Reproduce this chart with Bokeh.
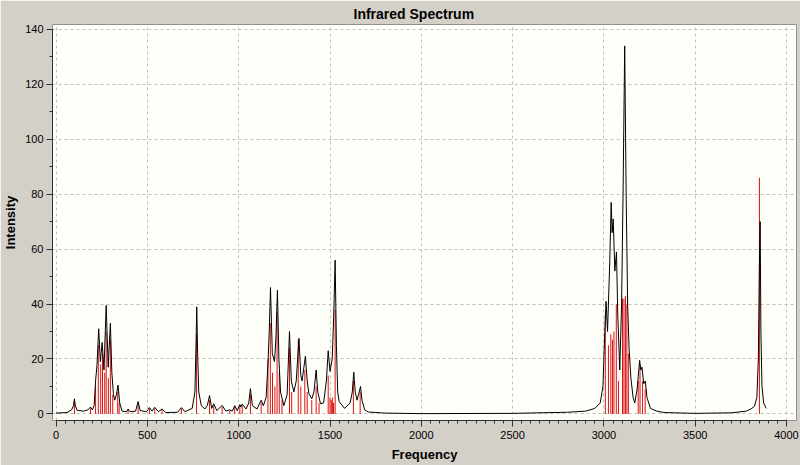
from bokeh.plotting import figure
from bokeh.models import Range1d, SingleIntervalTicker, ColumnDataSource, Title
from bokeh.embed import file_html
from bokeh.resources import INLINE

# Red stick spectrum (frequency cm-1, intensity)
stick_freq = [100, 188, 216, 231, 244, 254, 266, 274, 286, 297, 310, 337, 345,
              394, 449, 511, 540, 580, 686, 769, 840, 863, 909, 951, 978, 1006,
              1019, 1064, 1123, 1160, 1173, 1185, 1198, 1210, 1222, 1237, 1278,
              1290, 1326, 1340, 1362, 1375, 1400, 1424, 1440, 1490, 1500, 1507,
              1513, 1519, 1528, 1628, 1665,
              3008, 3025, 3038, 3047, 3055, 3068, 3080, 3102, 3110, 3118, 3126,
              3134, 3188, 3198, 3212, 3226, 3852]
stick_int = [4.5, 2, 10, 25, 18, 22, 15, 30, 13, 27, 7, 8, 4,
             1.5, 4, 2, 2, 1.5, 2, 29, 5, 3, 2.5, 1.2, 2.5, 2.8,
             3, 7, 4, 20, 33, 15, 10, 37, 15, 5, 24,
             8, 27, 10, 16, 8, 5, 10, 4, 14, 6, 5,
             6, 4, 38, 12, 8,
             36, 25, 29, 27, 30, 40, 12, 42, 42, 43, 40,
             22, 12, 18, 12, 9, 86]

# Black broadened envelope
curve_freq = [0, 60, 85, 95, 100, 105, 115, 150, 175, 188, 198, 208, 216, 224,
              233, 242, 252, 262, 274, 285, 297, 305, 314, 321, 330, 339, 348,
              361, 385, 394, 405, 435, 449, 460, 495, 511, 525, 540, 560, 580,
              600, 665, 686, 705, 745, 760, 766, 770, 775, 781, 795, 815, 828,
              840, 852, 863, 880, 909, 930, 951, 965, 978, 992, 1006, 1012, 1019,
              1040, 1055, 1064, 1075, 1100, 1123, 1135, 1150, 1160, 1167, 1174,
              1184, 1196, 1204, 1212, 1220, 1229, 1247, 1265, 1278, 1288, 1302,
              1315, 1330, 1340, 1347, 1365, 1375, 1384, 1400, 1412, 1424, 1433,
              1448, 1465, 1480, 1490, 1500, 1512, 1520, 1528, 1535, 1542, 1550,
              1580, 1610, 1622, 1630, 1638, 1648, 1660, 1667, 1675, 1690, 1710,
              1800, 2000, 2500, 2800, 2900, 2950, 2980, 2995, 3005, 3012, 3020,
              3032, 3040, 3045, 3051, 3060, 3069, 3076, 3087, 3097, 3105, 3114,
              3122, 3130, 3138, 3148, 3160, 3169, 3182, 3196, 3202, 3209, 3218,
              3227, 3236, 3255, 3290, 3330, 3500, 3700, 3780, 3810, 3825, 3838,
              3846, 3852, 3856, 3860, 3866, 3875, 3889]
curve_int = [0.3, 0.5, 1.5, 3, 5.5, 3, 1.3, 1, 1.5, 2.5, 1.5, 3, 12, 18,
             31, 19, 26, 16, 39.5, 17, 33, 15, 7, 5, 7, 10.5, 4,
             1, 0.8, 1.8, 0.8, 1, 4.5, 1.2, 0.8, 2.3, 1, 2.4, 0.8, 1.8,
             0.5, 0.6, 2.3, 0.8, 2, 8, 25, 39, 22, 8, 3, 1.8, 3,
             6.7, 2, 3.7, 1.2, 3.1, 1, 1.5, 1, 3, 1.2, 3.4, 2.5, 3.6,
             1.8, 4, 9.2, 3, 1.8, 5, 3, 6, 18, 30, 46,
             22, 19, 28, 45, 20, 8, 3, 7, 30, 12, 8,
             12, 27.5, 14, 12, 21, 12, 7.5, 5.5, 8, 16, 8,
             3.7, 4, 12, 23, 15.5, 20, 35, 56, 25, 8, 4.5,
             2, 4, 8, 15.2, 8, 5, 8, 10, 5, 1.5, 0.7,
             0.3, 0.1, 0.2, 0.6, 1, 2, 4, 10, 30, 41, 30,
             55, 77, 66, 71, 52, 59, 36, 16, 40, 80, 134,
             80, 40, 24, 13, 6, 4, 9, 19.5, 16, 17, 11,
             12, 6, 2, 1, 0.5, 0.2, 0.4, 1, 2, 2.8, 6,
             20, 55, 70, 30, 10, 4, 2]

x_ticks_interval = 500
y_ticks_interval = 20

FONT = "Liberation Sans"

p = figure(width=800, height=465, output_backend="svg", toolbar_location=None,
           x_range=Range1d(-20, 4055), y_range=Range1d(-2.4, 141.8),
           min_border_left=52, min_border_right=4, min_border_top=24,
           min_border_bottom=45)

p.background_fill_color = "#fffffa"
p.border_fill_color = "#d4d0c8"
p.outline_line_color = "#909090"
p.outline_line_width = 1

t = Title(text="Infrared Spectrum", align="left", text_font=FONT,
          text_font_size="14px", text_font_style="bold", text_color="#000000",
          text_line_height=0.8, standoff=6, offset=301)
p.add_layout(t, "above")

src = ColumnDataSource(dict(x=stick_freq, y0=[0] * len(stick_freq), y=stick_int))
p.segment(x0="x", y0="y0", x1="x", y1="y", source=src, line_color="#dd1111",
          line_width=1)
p.line(curve_freq, curve_int, line_color="#000000", line_width=1)

xa = p.xaxis[0]
xa.ticker = SingleIntervalTicker(interval=x_ticks_interval, num_minor_ticks=10)
xa.bounds = (0, 4000)
xa.axis_label = "Frequency"
ya = p.yaxis[0]
ya.ticker = SingleIntervalTicker(interval=y_ticks_interval, num_minor_ticks=2)
ya.bounds = (0, 140)
ya.axis_label = "Intensity"

for ax in (xa, ya):
    ax.axis_line_color = "#303030"
    ax.major_tick_line_color = "#303030"
    ax.minor_tick_line_color = "#303030"
    ax.major_tick_in = 0
    ax.minor_tick_in = 0
    ax.minor_tick_out = 3
    ax.major_tick_out = 6
    ax.major_label_text_font = FONT
    ax.major_label_text_font_size = "11px"
    ax.major_label_text_color = "#000000"
    ax.axis_label_text_font = FONT
    ax.axis_label_text_font_size = "13px"
    ax.axis_label_text_font_style = "bold"
    ax.axis_label_text_color = "#000000"

xa.major_label_standoff = 4
xa.axis_label_standoff = 5
ya.major_label_standoff = 3
ya.axis_label_standoff = 4

for g in (p.xgrid[0], p.ygrid[0]):
    g.grid_line_color = "#c0c0c0"
    g.grid_line_dash = "3 3"
    g.grid_line_width = 1
p.xgrid[0].ticker = xa.ticker
p.ygrid[0].ticker = ya.ticker

open("out.html", "w").write(file_html(p, INLINE))
